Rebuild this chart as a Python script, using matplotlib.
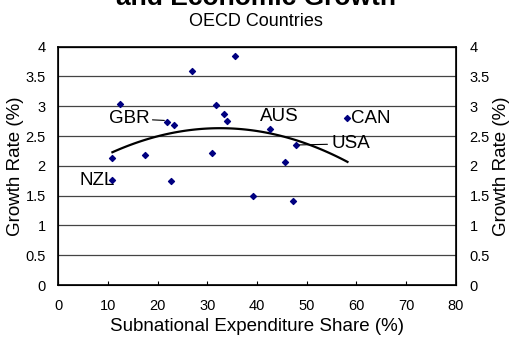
import numpy as np
import matplotlib
matplotlib.use('Agg')
import matplotlib.pyplot as plt

plt.rcParams['font.family'] = ['Liberation Sans', 'DejaVu Sans']

# subnational expenditure share (%) and growth rate (%)
share = [12.4, 27.0, 35.6, 31.7, 33.3, 33.9, 21.9, 23.3, 10.9, 17.4,
         30.9, 42.6, 58.2, 47.9, 45.6, 10.9, 22.6, 39.2, 47.3]
growth = [3.04, 3.59, 3.85, 3.02, 2.87, 2.75, 2.73, 2.68, 2.13, 2.19,
          2.21, 2.62, 2.80, 2.35, 2.07, 1.76, 1.74, 1.50, 1.41]

# quadratic trend fitted in the spreadsheet
trend_coef = [-0.00086, 0.0560, 1.72]
trend_range = (10.9, 58.2)

x_ticks = [0, 10, 20, 30, 40, 50, 60, 70, 80]
y_ticks = [0, 0.5, 1, 1.5, 2, 2.5, 3, 3.5, 4]

fig = plt.figure(figsize=(5.11, 3.43), dpi=100)
ax = fig.add_axes([0.114, 0.169, 0.778, 0.695])

ax.set_axisbelow(True)
ax.grid(axis='y', color='#444444', linewidth=0.9)
ax.scatter(share, growth, marker='D', s=9, color='#000080', zorder=3)

tx = np.linspace(trend_range[0], trend_range[1], 100)
ax.plot(tx, np.polyval(trend_coef, tx), color='black', linewidth=1.6, zorder=2)

ax.set_xlim(0, 80)
ax.set_ylim(0, 4)
ax.set_xticks(x_ticks)
ax.set_yticks(y_ticks)
ax.set_yticklabels([f'{v:g}' for v in y_ticks])
ax.tick_params(axis='x', direction='in', length=3, labelsize=10.5, pad=10)
ax.tick_params(axis='y', length=0, labelsize=10.5, pad=9)
for s in ax.spines.values():
    s.set_linewidth(1.2)

ax2 = ax.twinx()
ax2.set_ylim(0, 4)
ax2.set_yticks(y_ticks)
ax2.set_yticklabels([f'{v:g}' for v in y_ticks])
ax2.tick_params(axis='y', length=0, labelsize=10.5, pad=10)
ax2.set_ylabel('Growth Rate (%)', fontsize=13.5, rotation=90, labelpad=2)

ax.set_xlabel('Subnational Expenditure Share (%)', fontsize=13.5, labelpad=4)
ax.set_ylabel('Growth Rate (%)', fontsize=13.5, labelpad=1)

# country labels
lab = dict(fontsize=13.5, color='black')
ax.annotate('GBR', xy=(21.9, 2.76), xytext=(18.4, 2.79), ha='right', va='center',
            arrowprops=dict(arrowstyle='-', color='black', lw=0.8, shrinkA=0, shrinkB=2), **lab)
ax.text(11.4, 1.75, 'NZL', ha='right', va='center', **lab)
ax.text(44.4, 2.83, 'AUS', ha='center', va='center', **lab)
ax.text(58.9, 2.80, 'CAN', ha='left', va='center', **lab)
ax.annotate('USA', xy=(47.9, 2.35), xytext=(55.0, 2.37), ha='left', va='center',
            arrowprops=dict(arrowstyle='-', color='black', lw=0.8, shrinkA=1, shrinkB=2), **lab)

fig.text(0.5, 0.986, 'Fiscal Decentralization\nand Economic Growth', ha='center', va='baseline',
         fontsize=19, fontweight='bold', linespacing=1.0)
fig.text(0.5, 0.938, 'OECD Countries', ha='center', va='center', fontsize=13)

fig.savefig('out.png', dpi=100)
